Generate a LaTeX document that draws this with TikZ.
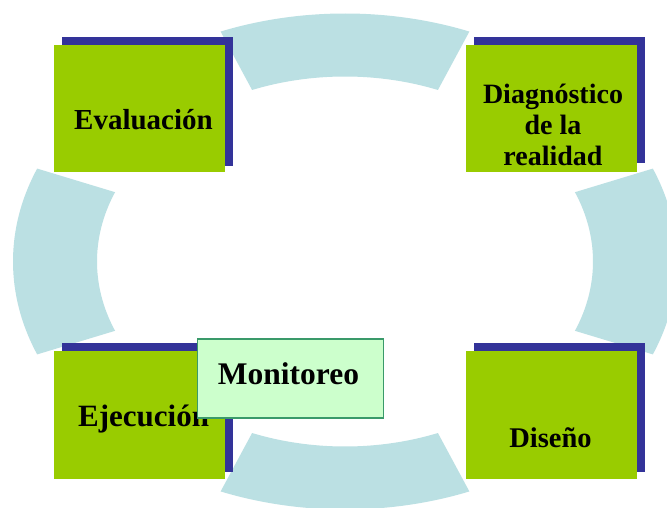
\documentclass[tikz,border=0pt]{standalone}
\usepackage{fontspec}
\setmainfont{Liberation Serif}
\usetikzlibrary{calc}
\definecolor{ringblue}{RGB}{187,224,227}
\definecolor{boxgreen}{RGB}{153,204,0}
\definecolor{shadowblue}{RGB}{51,51,153}
\definecolor{monifill}{RGB}{204,255,204}
\definecolor{moniline}{RGB}{58,154,106}
\tikzset{
  seg/.style={fill=ringblue},
  shadowbox/.style={fill=shadowblue, draw=none, inner sep=0pt, minimum width=171pt, anchor=south west},
  greenbox/.style={fill=boxgreen, draw=none, inner sep=0pt, minimum width=171pt, anchor=south west},
  lbl/.style={inner sep=0pt, text=black, align=center},
  monibox/.style={fill=monifill, draw=moniline, line width=1.8pt, inner sep=0pt, minimum width=186pt, minimum height=79pt, anchor=south west}
}
\begin{document}
\begin{tikzpicture}[x=1pt,y=1pt]
\useasboundingbox (0,0) rectangle (667,507);
\clip (0,0) rectangle (667,507);
\fill[white] (0,0) rectangle (667,507);
\coordinate (C) at (345,245.5);
% ring segments
\foreach \a [evaluate=\a as \s using \a-22, evaluate=\a as \e using \a+22] in {0,90,180,270}{
  \fill[seg] ($(C)+(\s:332pt and 248pt)$)
    arc[start angle=\s, end angle=\e, x radius=332pt, y radius=248pt]
    -- ($(C)+(\e:248pt and 185pt)$)
    arc[start angle=\e, end angle=\s, x radius=248pt, y radius=185pt]
    -- cycle;
}
% Evaluacion
\node[shadowbox, minimum height=129pt] (evalS) at (62,341) {};
\node[greenbox, minimum height=127pt] (eval) at (54,335) {};
\node[lbl, anchor=base, font=\bfseries\fontsize{29}{31}\selectfont] (evalT) at (143.5,377) {Evaluación};
% Diagnostico
\node[shadowbox, minimum height=126pt] (diagS) at (474,344) {};
\node[greenbox, minimum height=127pt] (diag) at (466,335) {};
\node[lbl, anchor=center, font=\bfseries\fontsize{28}{31}\selectfont] (diagT) at (553,382.5) {Diagnóstico\\de la\\realidad};
% Ejecucion
\node[shadowbox, minimum height=129pt] (ejecS) at (62,35) {};
\node[greenbox, minimum height=128pt] (ejec) at (54,28) {};
\node[lbl, anchor=base west, font=\bfseries\fontsize{31}{33}\selectfont] (ejecT) at (78,81) {Ejecución};
% Diseno
\node[shadowbox, minimum height=129pt] (diseS) at (474,35) {};
\node[greenbox, minimum height=128pt] (dise) at (466,28) {};
\node[lbl, anchor=base, font=\bfseries\fontsize{28.5}{31}\selectfont] (diseT) at (550.5,60) {Diseño};
% Monitoreo
\node[monibox] (moni) at (196.5,88.5) {};
\node[lbl, anchor=base, font=\bfseries\fontsize{31.5}{33}\selectfont] (moniT) at (288.5,123) {Monitoreo};
\end{tikzpicture}
\end{document}
